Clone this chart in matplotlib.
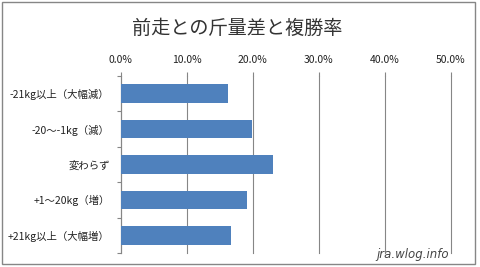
import matplotlib
matplotlib.use("Agg")
import matplotlib.pyplot as plt
from matplotlib.patches import Rectangle
from matplotlib.ticker import FuncFormatter, FixedLocator

plt.rcParams["font.family"] = ["Noto Sans CJK JP", "DejaVu Sans"]

# データ
categories = ["-21kg以上（大幅減）", "-20～-1kg（減）", "変わらず", "+1～20kg（増）", "+21kg以上（大幅増）"]
rates = [16.2, 19.9, 23.0, 19.2, 16.7]
x_ticks = [0, 10, 20, 30, 40, 50]

fig = plt.figure(figsize=(4.8, 2.67), dpi=100)
ax = fig.add_axes([0.2515, 0.0524, 0.6875, 0.663])

pos = list(range(len(categories)))
ax.barh(pos, rates, height=0.53, color="#4F81BD", zorder=3)

ax.set_xlim(0, 50)
ax.set_ylim(len(categories) - 0.5, -0.5)

# 上側の目盛り
ax.xaxis.tick_top()
ax.set_xticks(x_ticks)
ax.xaxis.set_major_formatter(FuncFormatter(lambda v, p: f"{v:.1f}%"))
ax.tick_params(axis="x", length=3, width=0.8, color="#868686", pad=5,
               labelsize=7.5, labelcolor="#222222")
ax.grid(axis="x", color="#868686", linewidth=0.8, zorder=0)
for gl in ax.get_xgridlines():
    gl.set_clip_on(False)

# 左側の目盛り
ax.set_yticks(pos)
ax.set_yticklabels(categories)
ax.tick_params(axis="y", which="major", length=0, pad=8, labelsize=7.5, labelcolor="#222222")
ax.yaxis.set_minor_locator(FixedLocator([i - 0.5 for i in range(len(categories) + 1)]))
ax.tick_params(axis="y", which="minor", length=3, width=0.8, color="#868686")

for side in ["top", "right", "bottom"]:
    ax.spines[side].set_visible(False)
ax.spines["left"].set_color("#868686")
ax.spines["left"].set_linewidth(0.8)

# タイトル
fig.text(0.495, 0.895, "前走との斤量差と複勝率", ha="center", va="center",
         fontsize=13.8, color="#333333")

# 透かし
fig.text(0.86, 0.045, "jra.wlog.info", ha="center", va="center",
         fontsize=8.5, color="#444444", style="italic", family="DejaVu Sans")

# 外枠
fig.patches.append(Rectangle((0.004, 0.012), 0.985, 0.98, transform=fig.transFigure,
                             fill=False, edgecolor="#868686", linewidth=1.0))

plt.savefig("out.png", dpi=100)
